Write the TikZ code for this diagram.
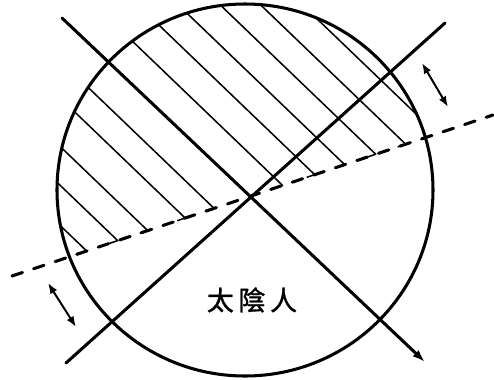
\documentclass[tikz,border=0pt]{standalone}
\usepackage{fontspec}
\newfontfamily\cjkfont[FakeBold=1.2]{Noto Sans CJK TC}
\usepackage{tikz}
\usetikzlibrary{arrows.meta, calc}
\tikzset{
  rim/.style={line width=2.6pt},
  stroke/.style={line width=2.6pt, line cap=round},
  divide/.style={line width=2.6pt, line cap=round, dash pattern=on 9.4pt off 10pt},
  hatchline/.style={line width=1.3pt, line join=round},
  move/.style={{Latex[length=3.2mm,width=2.4mm]}-{Latex[length=3.2mm,width=2.4mm]}, line width=1.7pt},
  tag/.style={font=\cjkfont\fontsize{23}{23}\selectfont, inner sep=0pt},
}

\begin{document}
\begin{tikzpicture}[x=0.03cm, y=-0.03cm]
  \useasboundingbox (0,0) rectangle (494,379);
  \coordinate (o) at (245,190);
  % the three cutting lines
  \coordinate (p1) at (62,18);  \coordinate (p2) at (425,362);
  \coordinate (q1) at (66,363); \coordinate (q2) at (445,23);
  \coordinate (d1) at (12,276); \coordinate (d2) at (493,115);
  % hatching above the dashed line
  \begin{scope}
    \clip (o) ellipse [x radius=188, y radius=186];
    \foreach \off in {121,92,64,29,2,-62,-92,-120,-149,-177,-206}{
      \coordinate (h1) at ({-0.6925*\off-216.4},{0.7214*\off-207.8});
      \coordinate (h2) at ({-0.6925*\off+216.4},{0.7214*\off+207.8});
      \draw[hatchline] (h1) -- (intersection of h1--h2 and d1--d2) -- ++(-8,2.7);
    }
  \end{scope}
  \draw[rim] (o) ellipse [x radius=188, y radius=186];
  \draw[stroke, -{Latex[length=3.8mm,width=2.6mm]}] (p1) -- (p2);
  \draw[stroke] (q1) -- (q2);
  \draw[divide] (d1) -- (d2);
  % shift arrows
  \coordinate (m1) at (422,63); \coordinate (m2) at (448,107);
  \coordinate (n1) at (48,283); \coordinate (n2) at (76,327);
  \draw[move] (m1) -- (m2);
  \draw[move] (n1) -- (n2);
  \node[tag] (yin) at (252,300) {太\hspace{4pt}陰\hspace{4pt}人};
\end{tikzpicture}
\end{document}
